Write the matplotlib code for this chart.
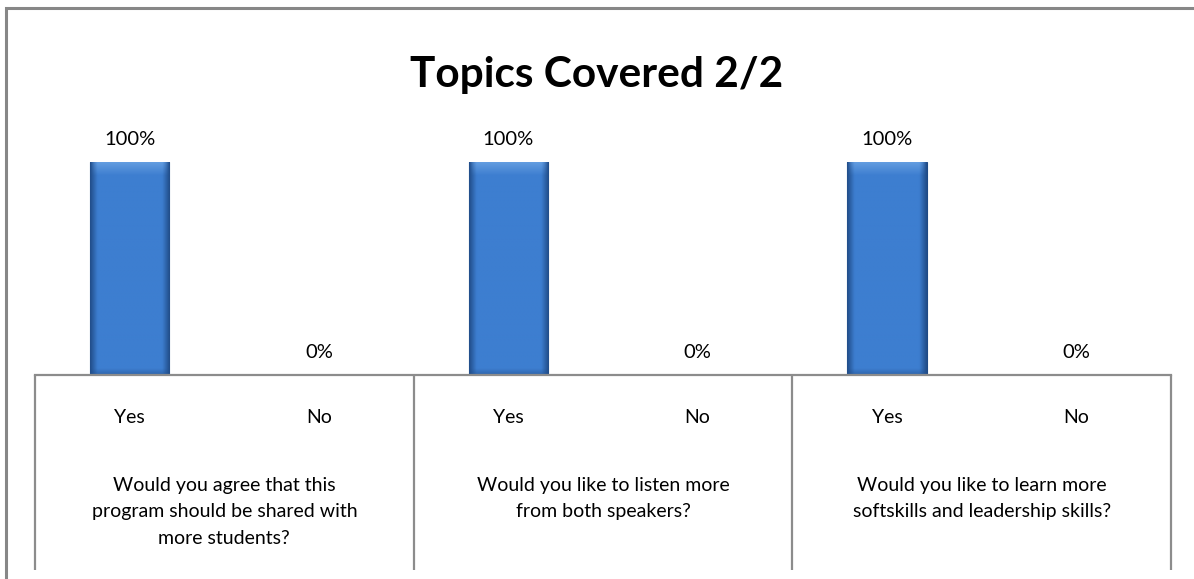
"""Recreate the 'Topics Covered 2/2' survey bar chart."""

import matplotlib.pyplot as plt
import numpy as np
from matplotlib import transforms
from matplotlib.patches import Rectangle

TITLE = "Topics Covered 2/2"
ANSWERS = ["Yes", "No", "Yes", "No", "Yes", "No"]
SHARES = [1.0, 0.0, 1.0, 0.0, 1.0, 0.0]
QUESTIONS = [
    "Would you agree that this\nprogram should be shared with\nmore students?",
    "Would you like to listen more\nfrom both speakers?",
    "Would you like to learn more\nsoftskills and leadership skills?",
]

W, H = 1194, 579
GRAY = "#8c8c8c"
FONT = "Lato"


def _bar_shading(n_cols: int = 60, n_rows: int = 200) -> np.ndarray:
    # horizontal bevel: dark rims, lighter body
    dark = np.array([0x22, 0x4f, 0x8c]) / 255
    body = np.array([0x3d, 0x7e, 0xd0]) / 255
    light = np.array([0x6c, 0xa4, 0xe4]) / 255
    u = np.linspace(0, 1, n_cols)
    rim = np.clip(np.minimum(u, 1 - u) / 0.09, 0, 1)
    row = dark + (body - dark) * rim[:, None]
    img = np.repeat(row[None, :, :], n_rows, axis=0)
    v = np.linspace(0, 1, n_rows)[:, None, None]
    top = np.clip(1 - v / 0.06, 0, 1) * rim[None, :, None]
    img = img + (light - img) * top * 0.8
    bottom = np.clip((v - 0.97) / 0.03, 0, 1)
    img = img + (dark - img) * bottom * 0.5
    return img


def main() -> None:
    plt.rcParams["font.family"] = [FONT, "DejaVu Sans"]
    fig = plt.figure(figsize=(W / 100, H / 100), dpi=100)
    fig.patch.set_facecolor("white")

    # chart frame (only top and left edges fall inside the picture)
    fig.add_artist(Rectangle((6 / W, -0.2), 1.2, 1.2 - 8 / H,
                             transform=fig.transFigure, fill=False,
                             edgecolor="#878787", linewidth=2.2))

    ax = fig.add_axes([35 / W, 1 - 375 / H, 1136 / W, 213 / H])
    x = np.arange(len(ANSWERS))
    bars = ax.bar(x, SHARES, width=0.42, color="#3d7ed0",
                  edgecolor="#1f4a85", linewidth=0.8, zorder=2)
    shade = _bar_shading()
    for bar in bars:
        if bar.get_height() <= 0:
            continue
        x0, x1 = bar.get_x(), bar.get_x() + bar.get_width()
        im = ax.imshow(shade, extent=(x0, x1, 0, bar.get_height()),
                       aspect="auto", zorder=2.5, interpolation="bilinear")
        im.set_clip_path(bar)

    for xi, val in zip(x, SHARES):
        ax.annotate(f"{val:.0%}", (xi, val), xytext=(0, 16.5),
                    textcoords="offset points", ha="center", va="center",
                    fontsize=14.5, color="black")

    ax.set_xlim(-0.5, len(ANSWERS) - 0.5)
    ax.set_ylim(0, 1)
    ax.set_yticks([])
    for side in ("top", "left", "right"):
        ax.spines[side].set_visible(False)
    ax.spines["bottom"].set_color(GRAY)
    ax.spines["bottom"].set_linewidth(1.6)
    ax.set_xticks(x, ANSWERS)
    ax.tick_params(axis="x", length=0, pad=24.5, labelsize=14)

    # multi-level category axis: separators and question labels
    blend = transforms.blended_transform_factory(ax.transData, fig.transFigure)
    for edge in np.arange(-0.5, len(ANSWERS), 2):
        ax.plot([edge, edge], [1 - 375 / H, 1 - 570 / H], transform=blend,
                color=GRAY, linewidth=1.6, clip_on=False, solid_capstyle="butt")
    for i, question in enumerate(QUESTIONS):
        ax.text(2 * i + 0.5, 1 - 476.5 / H, question, transform=blend,
                ha="center", va="top", fontsize=14, linespacing=1.68)

    fig.text(0.5, 1 - 75 / H, TITLE, ha="center", va="center",
             fontsize=30.5, fontweight="bold")

    fig.savefig("out.png", dpi=100)


if __name__ == "__main__":
    main()
